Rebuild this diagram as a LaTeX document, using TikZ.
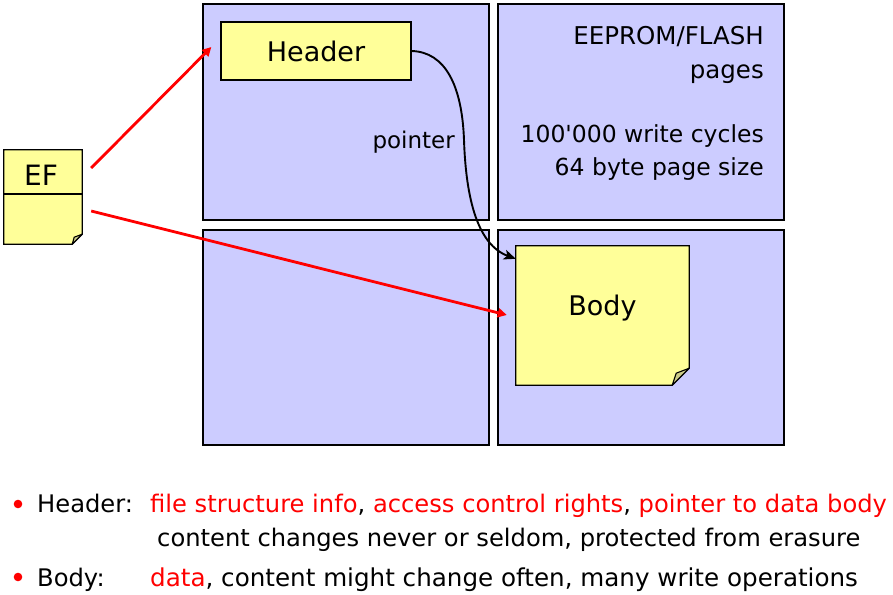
\documentclass[tikz,border=0pt]{standalone}
\usepackage{fontspec}
\setmainfont{DejaVu Sans}
\newfontfamily\plainfont{DejaVu Sans}
\usetikzlibrary{calc,arrows.meta}
\definecolor{panel}{HTML}{CCCCFF}
\definecolor{note}{HTML}{FFFF99}
\definecolor{fold}{HTML}{CCCC88}
\definecolor{hl}{HTML}{FF0000}
\newcommand{\fs}[1]{\fontsize{#1}{#1}\selectfont}
\begin{document}
\begin{tikzpicture}[x=1pt,y=-1pt,
  panelbox/.style={draw=black, line width=1.3pt, fill=panel, inner sep=0pt,
    minimum width=286pt},
  notebox/.style={inner sep=0pt},
  noteline/.style={draw=black, line width=1.3pt, fill=note},
  foldline/.style={draw=black, line width=1.1pt, fill=fold, line join=round},
  redarrow/.style={draw=hl, line width=2.8pt, -{Triangle[length=9pt,width=9pt]}},
  ptrarrow/.style={draw=black, line width=1.9pt, -{Stealth[length=12pt,width=10pt,inset=3pt]}},
  rtext/.style={anchor=base east, inner sep=0pt, font=\fs{23.5}},
  btext/.style={anchor=base west, inner sep=0pt, font=\fs{24.2}},
]
\useasboundingbox (0,0) rectangle (893,594);

% memory pages
\node[panelbox, minimum height=216pt] (pTL) at (346,112) {};
\node[panelbox, minimum height=216pt] (pTR) at (641,112) {};
\node[panelbox, minimum height=215pt] (pBL) at (346,337.5) {};
\node[panelbox, minimum height=215pt] (pBR) at (641,337.5) {};

% page description
\node[rtext, font=\fs{24.5}] (t1) at (764,45) {EEPROM/FLASH};
\node[rtext, font=\fs{24.5}] (t2) at (764,78) {pages};
\node[rtext, font=\plainfont\fs{23.5}] (t3) at (764,142) {100'000 write cycles};
\node[rtext] (t4) at (764,175) {64 byte page size};

% header record
\node[noteline, minimum width=190pt, minimum height=58pt, inner sep=0pt,
      font=\fs{27}] (hdr) at (316,51) {Header};

% EF note with dog-eared corner
\node[notebox, minimum width=78pt, minimum height=94pt] (ef) at (43,197) {};
\path[noteline] (ef.north west) -- (ef.north east) -- ($(ef.south east)+(0,-10)$)
  -- ($(ef.south east)+(-10,0)$) -- (ef.south west) -- cycle;
\draw[black, line width=1.3pt] ($(ef.west)+(0,-3)$) -- ($(ef.east)+(0,-3)$);
\path[foldline] ($(ef.south east)+(0,-10)$) -- ($(ef.south east)+(-10,0)$)
  -- ($(ef.south east)+(-8,-7)$) -- cycle;
\node[inner sep=0pt, font=\fs{28}] (eft) at (41,175) {EF};

% body note with dog-eared corner
\node[notebox, minimum width=173pt, minimum height=139pt] (body) at (602.5,315.5) {};
\path[noteline] (body.north west) -- (body.north east) -- ($(body.south east)+(0,-17)$)
  -- ($(body.south east)+(-17,0)$) -- (body.south west) -- cycle;
\path[foldline] ($(body.south east)+(0,-17)$) -- ($(body.south east)+(-17,0)$)
  -- ($(body.south east)+(-13,-12)$) -- cycle;
\node[inner sep=0pt, font=\fs{27}] (bodyt) at (602.5,308) {Body};

% connectors
\coordinate (efA) at ($(ef.east)+(9,-29)$);
\coordinate (efB) at ($(ef.east)+(9,14)$);
\coordinate (hdrIn) at ($(hdr.west)+(-9,-4)$);
\coordinate (bodyIn) at ($(body.west)+(-9,-0.5)$);
\draw[redarrow] (efA) -- (hdrIn);
\draw[redarrow] (efB) -- (bodyIn);
\draw[ptrarrow] (hdr.east) .. controls (445,52) and (462,85) .. (464,140)
  .. controls (466,200) and (478,245) .. ($(body.north west)+(0,13)$);
\node[anchor=base east, inner sep=0pt, font=\fs{23}] (ptr) at (455,148) {pointer};

% legend
\fill[hl] (18,504) circle (4.3pt);
\node[btext] (l1a) at (37,512) {Header:};
\node[btext, text=hl] (l1b) at (150,512) {file structure info\textcolor{black}{,} access control rights\textcolor{black}{,} pointer to data body};
\node[btext] (l2) at (157,546) {content changes never or seldom, protected from erasure};
\fill[hl] (18,577) circle (4.3pt);
\node[btext] (l3a) at (37,586) {Body:};
\node[btext, font=\fs{24.6}] (l3b) at (150,586) {\textcolor{hl}{data}, content might change often, many write operations};
\end{tikzpicture}
\end{document}
